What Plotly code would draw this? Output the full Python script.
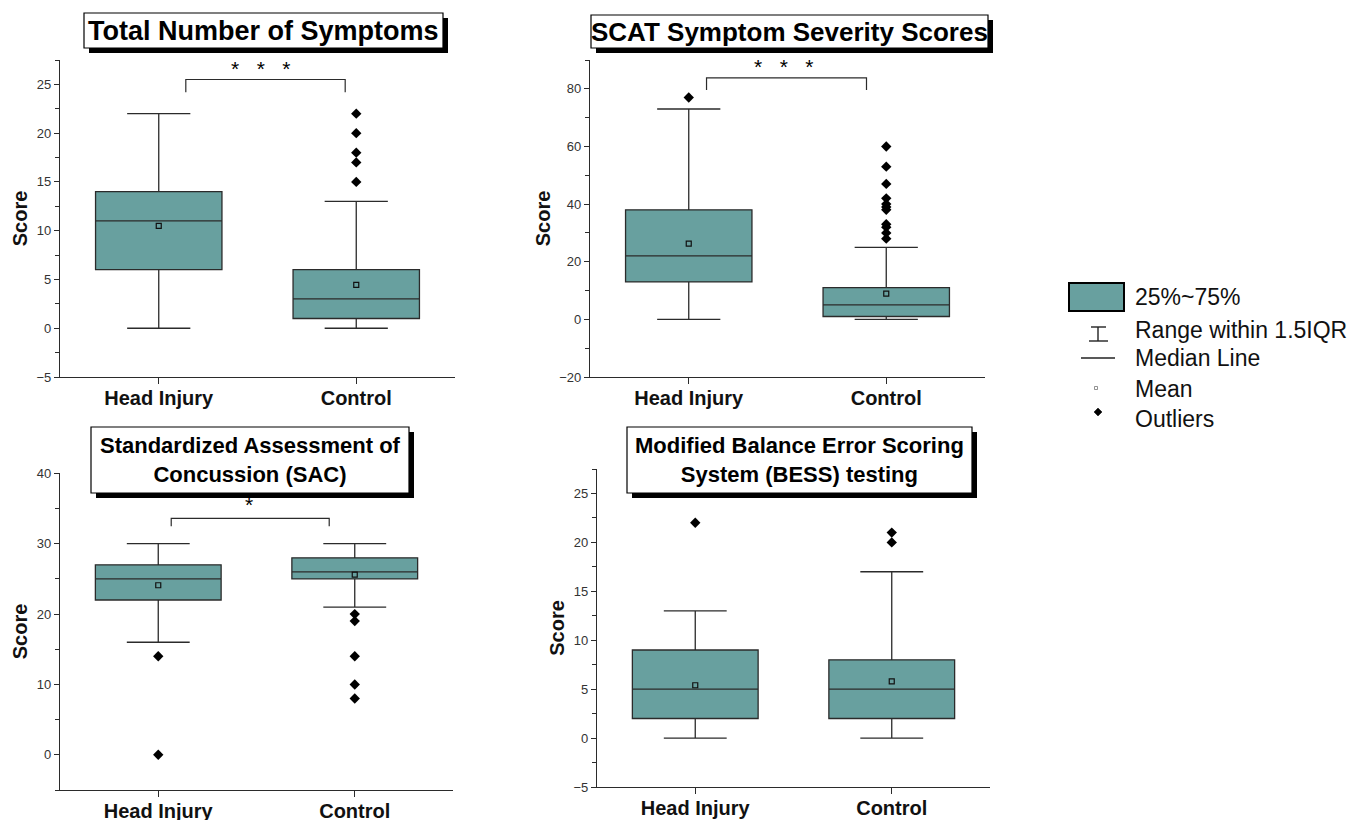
import plotly.graph_objects as go

# ---------------- data ----------------
categories = ["Head Injury", "Control"]

symptoms_q1 = [6, 1]
symptoms_median = [11, 3]
symptoms_q3 = [14, 6]
symptoms_lower = [0, 0]
symptoms_upper = [22, 13]
symptoms_mean = [10.5, 4.45]
symptoms_outliers = [[], [15, 17, 18, 20, 22]]

scat_q1 = [13, 1]
scat_median = [22, 5]
scat_q3 = [38, 11]
scat_lower = [0, 0]
scat_upper = [73, 25]
scat_mean = [26.3, 8.9]
scat_outliers = [[77], [28, 30, 32, 33, 38, 39, 40, 42, 47, 53, 60]]

sac_q1 = [22, 25]
sac_median = [25, 26]
sac_q3 = [27, 28]
sac_lower = [16, 21]
sac_upper = [30, 30]
sac_mean = [24.1, 25.6]
sac_outliers = [[14, 0], [20, 19, 14, 10, 8]]

bess_q1 = [2, 2]
bess_median = [5, 5]
bess_q3 = [9, 8]
bess_lower = [0, 0]
bess_upper = [13, 17]
bess_mean = [5.4, 5.8]
bess_outliers = [[22], [20, 21]]

titles = [
    "Total Number of Symptoms",
    "SCAT Symptom Severity Scores",
    "Standardized Assessment of<br>Concussion (SAC)",
    "Modified Balance Error Scoring<br>System (BESS) testing",
]
significance = ["*\u00a0\u00a0\u00a0*\u00a0\u00a0\u00a0*", "*\u00a0\u00a0\u00a0*\u00a0\u00a0\u00a0*", "*", None]

legend_labels = ["25%~75%", "Range within 1.5IQR", "Median Line", "Mean", "Outliers"]

# ---------------- style ----------------
W, H = 1366, 820
TEAL = "#68A09F"
LINE = "#2b2b2b"
FONT = "Liberation Sans, Arial, sans-serif"


def PX(px):
    return px / W


def PY(py):
    return 1 - py / H


panels = [
    dict(stats=(symptoms_q1, symptoms_median, symptoms_q3, symptoms_lower, symptoms_upper, symptoms_mean, symptoms_outliers),
         xdom=(60, 455), ydom=(60, 377), yrange=(-5, 27.5), dtick=5, minor=2.5,
         title_box=(84, 13, 443, 48), title_size=27,
         bracket=(0.137, 0.944, 24.2, 25.5), star=(0.52, 26.6)),
    dict(stats=(scat_q1, scat_median, scat_q3, scat_lower, scat_upper, scat_mean, scat_outliers),
         xdom=(590, 985), ydom=(60, 377), yrange=(-20, 90), dtick=20, minor=10,
         title_box=(591, 15, 988, 48), title_size=26,
         bracket=(0.09, 0.90, 79.6, 83.8), star=(0.48, 87.6)),
    dict(stats=(sac_q1, sac_median, sac_q3, sac_lower, sac_upper, sac_mean, sac_outliers),
         xdom=(60, 453), ydom=(473, 790), yrange=(-5, 40.05), dtick=10, minor=5,
         title_box=(91, 427, 409, 493), title_size=22,
         bracket=(0.066, 0.87, 32.5, 33.6), star=(0.46, 35.6)),
    dict(stats=(bess_q1, bess_median, bess_q3, bess_lower, bess_upper, bess_mean, bess_outliers),
         xdom=(597, 990), ydom=(469, 787), yrange=(-5, 27.5), dtick=5, minor=2.5,
         title_box=(627, 427, 972, 493), title_size=22,
         bracket=None, star=None),
]

fig = go.Figure()
annotations = []
shapes = []
xpos = list(range(len(categories)))

for i, p in enumerate(panels):
    n = "" if i == 0 else str(i + 1)
    xa, ya = "x" + n, "y" + n
    q1, med, q3, lo, up, mean, outl = p["stats"]
    fig.add_trace(go.Box(
        x=xpos, q1=q1, median=med, q3=q3, lowerfence=lo, upperfence=up,
        width=0.64, whiskerwidth=0.5, fillcolor=TEAL,
        line=dict(color=LINE, width=1.3), boxpoints=False,
        xaxis=xa, yaxis=ya, showlegend=False, hoverinfo="skip"))
    fig.add_trace(go.Scatter(
        x=xpos, y=mean, mode="markers", xaxis=xa, yaxis=ya, showlegend=False,
        marker=dict(symbol="square-open", size=5, color="#111", line=dict(width=1.2))))
    ox, oy = [], []
    for k, vals in enumerate(outl):
        ox += [xpos[k]] * len(vals)
        oy += vals
    fig.add_trace(go.Scatter(
        x=ox, y=oy, mode="markers", xaxis=xa, yaxis=ya, showlegend=False,
        marker=dict(symbol="diamond", size=8, color="#000")))
    if p["bracket"]:
        bx0, bx1, by0, by1 = p["bracket"]
        fig.add_trace(go.Scatter(
            x=[bx0, bx0, bx1, bx1], y=[by0, by1, by1, by0], mode="lines",
            xaxis=xa, yaxis=ya, showlegend=False, hoverinfo="skip",
            line=dict(color=LINE, width=1.2)))
        annotations.append(dict(
            x=p["star"][0], y=p["star"][1], xref=xa, yref=ya, text=significance[i],
            showarrow=False, font=dict(size=21, color="#000", family=FONT),
            xanchor="center", yanchor="middle"))

    axis_common = dict(showline=True, linecolor=LINE, linewidth=1.3, showgrid=False,
                       zeroline=False, ticks="outside", tickcolor=LINE, tickwidth=1.2,
                       automargin=False)
    fig.update_layout(**{
        ("xaxis" + n): dict(
            domain=[PX(p["xdom"][0]), PX(p["xdom"][1])], anchor=ya,
            range=[-0.5, 1.5], tickvals=xpos, ticktext=categories, ticklen=6,
            ticklabelstandoff=-3,
            tickfont=dict(size=20, family=FONT, color="#111", weight="bold"),
            fixedrange=True, **axis_common),
        ("yaxis" + n): dict(
            domain=[PY(p["ydom"][1]), PY(p["ydom"][0])], anchor=xa,
            range=list(p["yrange"]), dtick=p["dtick"], tick0=0, ticklen=5,
            minor=dict(ticks="outside", ticklen=4, dtick=p["minor"], tick0=0,
                       tickcolor=LINE, tickwidth=1.1),
            tickfont=dict(size=13, family=FONT, color="#333"),
            title=dict(text="Score", standoff=3,
                       font=dict(size=20, family=FONT, color="#111", weight="bold")),
            fixedrange=True, **axis_common),
    })

    # title box with drop shadow
    bx0, by0, bx1, by1 = p["title_box"]
    shapes.append(dict(type="rect", xref="paper", yref="paper", layer="above",
                       x0=PX(bx0 + 5), x1=PX(bx1 + 5), y0=PY(by1 + 5), y1=PY(by0 + 5),
                       fillcolor="#000", line=dict(color="#000", width=0)))
    shapes.append(dict(type="rect", xref="paper", yref="paper", layer="above",
                       x0=PX(bx0), x1=PX(bx1), y0=PY(by1), y1=PY(by0),
                       fillcolor="#fff", line=dict(color="#000", width=1.2)))
    annotations.append(dict(
        x=PX((bx0 + bx1) / 2), y=PY((by0 + by1) / 2), xref="paper", yref="paper",
        text=titles[i], showarrow=False, xanchor="center", yanchor="middle",
        font=dict(color="#000", size=p["title_size"], family=FONT, weight="bold")))

# ---------------- legend (drawn) ----------------
shapes.append(dict(type="rect", xref="paper", yref="paper",
                   x0=PX(1069), x1=PX(1124), y0=PY(311), y1=PY(283),
                   fillcolor=TEAL, line=dict(color="#000", width=2)))
for (x0, y0, x1, y1) in [(1098, 327, 1098, 341), (1091, 327, 1106, 327),
                         (1089, 341, 1108, 341), (1081, 358, 1115, 358)]:
    shapes.append(dict(type="line", xref="paper", yref="paper",
                       x0=PX(x0), x1=PX(x1), y0=PY(y0), y1=PY(y1),
                       line=dict(color="#222", width=1.4)))
shapes.append(dict(type="rect", xref="paper", yref="paper",
                   x0=PX(1094.5), x1=PX(1097.5), y0=PY(389.5), y1=PY(386.5),
                   line=dict(color="#777", width=0.8), fillcolor="rgba(0,0,0,0)"))
shapes.append(dict(type="path", xref="paper", yref="paper",
                   path="M {} {} L {} {} L {} {} L {} {} Z".format(
                       PX(1098), PY(408), PX(1102), PY(412), PX(1098), PY(416), PX(1094), PY(412)),
                   fillcolor="#000", line=dict(color="#000", width=0.5)))
for lbl, ly in zip(legend_labels, [297, 330, 358, 389, 419]):
    annotations.append(dict(x=PX(1133), y=PY(ly), xref="paper", yref="paper", text=lbl,
                            showarrow=False, xanchor="left", yanchor="middle",
                            font=dict(size=23, family=FONT, color="#111")))

fig.update_layout(
    width=W, height=H, margin=dict(l=0, r=0, t=0, b=0),
    paper_bgcolor="white", plot_bgcolor="white", showlegend=False,
    annotations=annotations, shapes=shapes,
)

fig.write_html("out.html", config={"displayModeBar": False},
               post_script="document.body.style.margin='0px';")
